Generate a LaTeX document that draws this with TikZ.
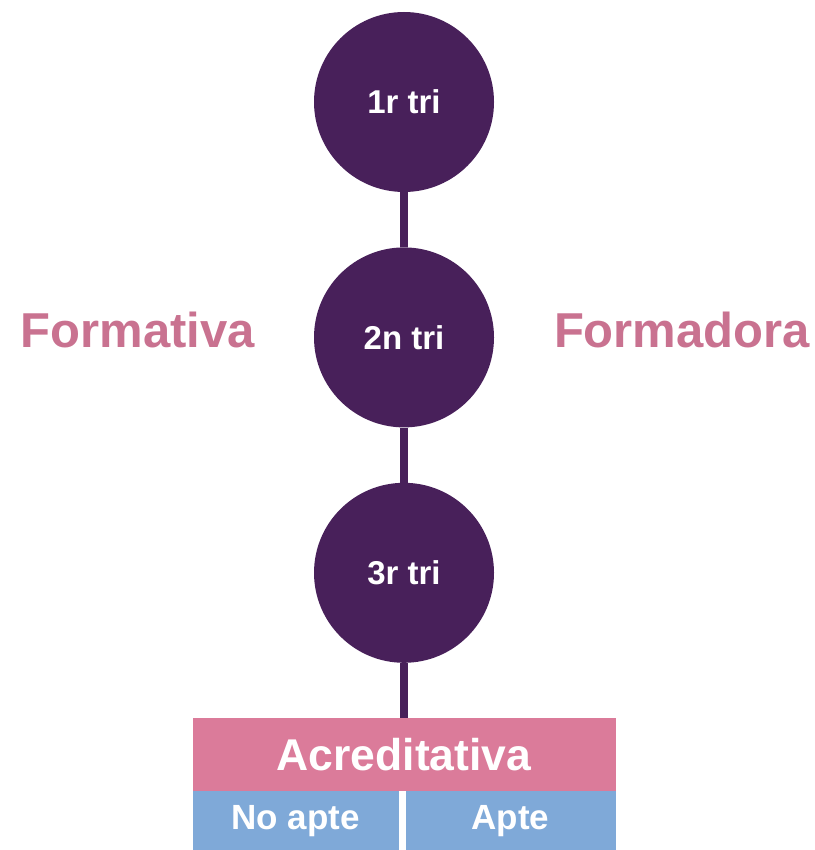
\documentclass[tikz,border=0pt]{standalone}
\usepackage{fontspec}
\setmainfont{Liberation Sans}
\usepackage{tikz}
\usetikzlibrary{positioning}

\definecolor{triPurple}{HTML}{48205A}
\definecolor{labelPink}{HTML}{C97290}
\definecolor{boxPink}{HTML}{DB7B9A}
\definecolor{boxBlue}{HTML}{7FA9D8}

\begin{document}
\begin{tikzpicture}[
    x=1pt, y=1pt,
    tri/.style={circle, fill=triPurple, minimum size=180pt, inner sep=0pt,
        text=white, font=\bfseries\fontsize{33}{36}\selectfont},
    side/.style={text=labelPink, font=\bfseries\fontsize{49}{54}\selectfont, inner sep=0pt},
    link/.style={draw=triPurple, line width=8pt},
    accbox/.style={fill=boxPink, minimum width=423pt, minimum height=73pt, inner sep=0pt,
        text=white, font=\bfseries\fontsize{44.5}{48}\selectfont},
    result/.style={fill=boxBlue, minimum height=60.5pt, inner sep=0pt,
        text=white, font=\bfseries\fontsize{35}{40}\selectfont}
]
\useasboundingbox (0,0) rectangle (814,-850);

% --- Trimestres ---
\node[tri] (first) at (404,-102) {1r tri};
\node[tri, below=55pt of first] (second) {2n tri};
\node[tri, below=55pt of second] (third) {3r tri};

% --- Side labels ---
\node[side] (formativa) at (138,-330) {Formativa};
\node[side] (formadora) at (682,-330) {Formadora};

% --- Acreditativa ---
\node[accbox, below=55pt of third] (acred) {Acreditativa};
\node[result, minimum width=206pt, anchor=north west] (noapte) at ([yshift=0.5pt]acred.south west) {No apte};
\node[result, minimum width=210pt, anchor=north east] (apte) at ([yshift=0.5pt]acred.south east) {Apte};

% --- Links ---
\draw[link] (first) -- (second);
\draw[link] (second) -- (third);
\draw[link] (third) -- (acred);

\end{tikzpicture}
\end{document}
